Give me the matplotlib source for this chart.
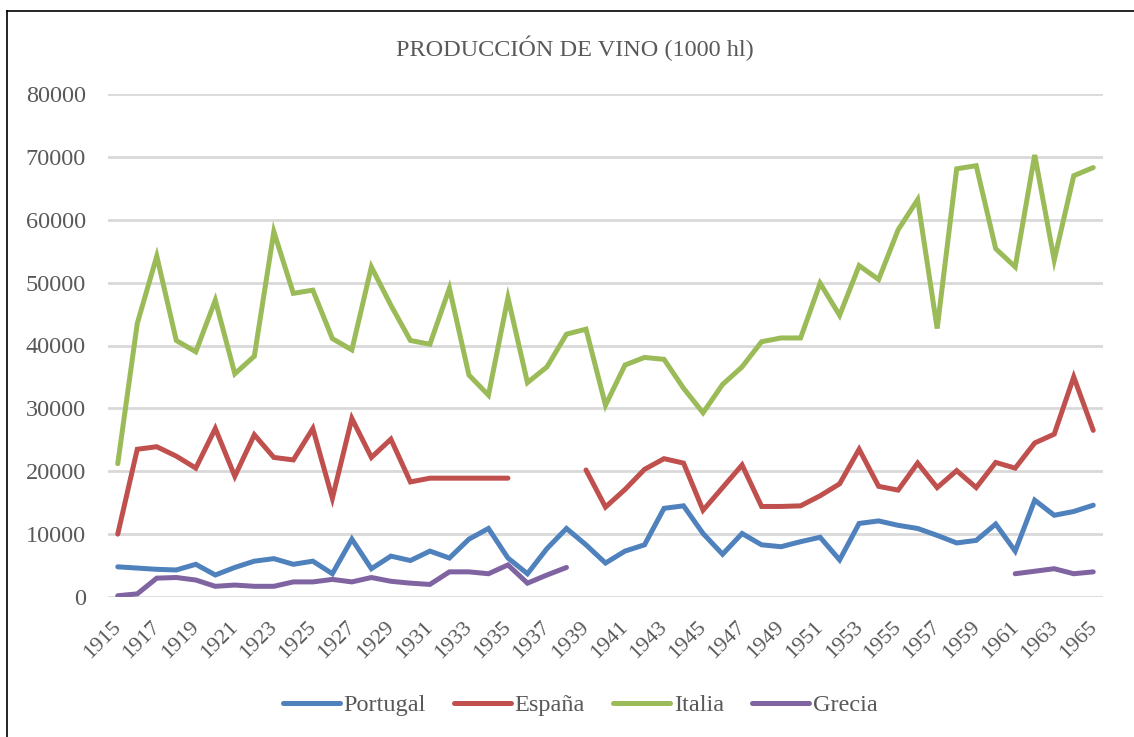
import numpy as np
import matplotlib
matplotlib.use('Agg')
import matplotlib.pyplot as plt
import matplotlib.transforms as mtransforms
from matplotlib.lines import Line2D

plt.rcParams['font.family'] = ['Liberation Serif', 'DejaVu Serif']

YEARS = list(range(1915, 1966))
nan = np.nan

# Producción de vino, 1000 hl
PORTUGAL = [4800, 4600, 4400, 4300, 5200, 3500, 4700, 5700, 6100, 5200,
            5700, 3700, 9200, 4500, 6500, 5800, 7300, 6200, 9200, 10900,
            6200, 3700, 7700, 10900, 8300, 5400, 7300, 8300, 14100, 14500,
            10100, 6800, 10100, 8300, 8000, 8800, 9500, 5900, 11700, 12100,
            11400, 10900, 9800, 8600, 9000, 11600, 7300, 15400, 13000, 13600,
            14600]
ESPANA = [10000, 23500, 23900, 22400, 20500, 26800, 19200, 25800, 22200, 21800,
          26800, 15700, 28400, 22200, 25100, 18300, 18900, 18900, 18900, 18900,
          18900, nan, nan, nan, 20200, 14300, 17100, 20300, 22000, 21300,
          13800, 17400, 21000, 14400, 14400, 14500, 16100, 18000, 23500, 17600,
          17000, 21300, 17400, 20100, 17400, 21400, 20500, 24500, 25900, 35000,
          26500]
ITALIA = [21200, 43500, 54200, 40800, 39000, 47200, 35500, 38300, 58100, 48300,
          48800, 41100, 39300, 52500, 46400, 40800, 40200, 49100, 35300, 32100,
          47600, 34100, 36600, 41800, 42600, 30500, 36900, 38100, 37800, 33200,
          29300, 33800, 36600, 40600, 41200, 41200, 49900, 44800, 52700, 50500,
          58400, 63200, 42700, 68100, 68600, 55400, 52500, 70300, 53600, 67000,
          68300]
GRECIA = [200, 500, 3000, 3100, 2700, 1700, 1900, 1700, 1700, 2400,
          2400, 2800, 2400, 3100, 2500, 2200, 2000, 4000, 4000, 3700,
          5100, 2200, 3500, 4700, nan, nan, nan, nan, nan, nan,
          nan, nan, nan, nan, nan, nan, nan, nan, nan, nan,
          nan, nan, nan, nan, nan, nan, 3700, 4100, 4500, 3700,
          4000]

SERIES = [('Portugal', PORTUGAL, '#4F81BD'),
          ('España', ESPANA, '#C0504D'),
          ('Italia', ITALIA, '#9BBB59'),
          ('Grecia', GRECIA, '#8064A2')]

TEXT_COL = '#595959'
GRID_COL = '#D9D9D9'

fig = plt.figure(figsize=(11.34, 7.37), dpi=100)
ax = fig.add_axes([108 / 1134, 1 - 597 / 737, 995 / 1134, 503 / 737])

x = np.arange(len(YEARS))
for name, vals, col in SERIES:
    ax.plot(x, vals, color=col, linewidth=3.6, label=name,
            solid_joinstyle='miter', solid_capstyle='round', zorder=3)

ax.set_xlim(-0.5, len(YEARS) - 0.5)
ax.set_ylim(0, 80000)
ax.set_yticks(range(0, 80001, 10000))
ax.set_xticks(x[::2])
ax.set_xticklabels([str(y) for y in YEARS[::2]], rotation=45,
                   ha='right', va='top', rotation_mode='anchor')
ax.tick_params(axis='x', length=0, labelsize=16, colors=TEXT_COL, pad=6)
ax.tick_params(axis='y', length=0, labelsize=17.5, colors=TEXT_COL, pad=16)
ax.grid(True, axis='y', color=GRID_COL, linewidth=2)
ax.set_axisbelow(True)
for s in ax.spines.values():
    s.set_visible(False)

# desplazar etiquetas de años (como en Excel)
shift = mtransforms.ScaledTranslation(-6 / 100, -12 / 100, fig.dpi_scale_trans)
for lbl in ax.get_xticklabels():
    lbl.set_transform(lbl.get_transform() + shift)

fig.text(575 / 1134, 1 - 48 / 737, 'PRODUCCIÓN DE VINO (1000 hl)',
         ha='center', va='center', fontsize=17.5, color=TEXT_COL)

leg = fig.legend(loc='center', bbox_to_anchor=(580 / 1134, 1 - 705 / 737),
                 ncol=4, frameon=False, fontsize=17.5, handlelength=2.35,
                 handletextpad=0.15, columnspacing=1.15)
for t in leg.get_texts():
    t.set_color(TEXT_COL)

# marco del gráfico (solo borde superior e izquierdo visibles)
fig.add_artist(Line2D([7 / 1134, 1], [1 - 11 / 737, 1 - 11 / 737],
                      transform=fig.transFigure, color='black', linewidth=1.2))
fig.add_artist(Line2D([7 / 1134, 7 / 1134], [0, 1 - 11 / 737],
                      transform=fig.transFigure, color='black', linewidth=1.2))

fig.savefig('out.png', dpi=100, facecolor='white')
